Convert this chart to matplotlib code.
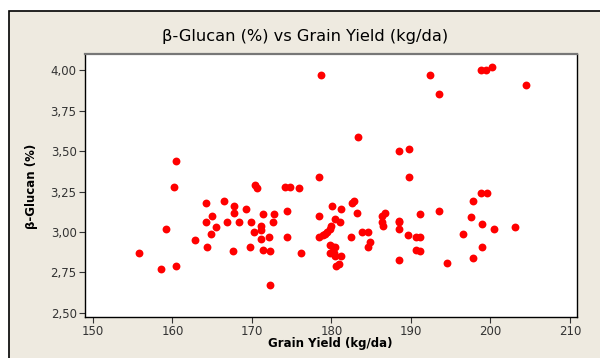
import matplotlib.pyplot as plt
from matplotlib.patches import Rectangle
from matplotlib.ticker import FuncFormatter

# Grain yield (kg/da) and beta-glucan (%)
grain_yield = [
    160.4, 160.2, 155.8, 158.5, 160.5, 159.2, 162.9, 164.2, 164.2, 165.0,
    164.8, 165.5, 164.3, 166.5, 166.9, 167.7, 167.7, 167.6, 168.4, 169.2,
    169.9, 169.7, 170.2, 170.4, 170.6, 171.4, 171.2, 171.2, 171.2, 171.4,
    172.2, 172.3, 172.6, 172.8, 172.3,
    178.7, 192.4, 193.6, 183.4, 188.5, 189.8, 189.8, 178.5, 174.1, 174.8,
    175.9, 174.4, 174.4, 176.2, 178.5, 178.5, 178.9, 179.2, 179.5, 179.8,
    179.9, 180.1, 180.4, 181.1, 181.2, 179.8, 180.2, 180.5, 179.8, 180.3,
    180.5, 181.2, 180.6, 180.9, 182.5, 182.6, 182.8, 183.2, 183.8, 184.6,
    184.8, 184.6, 186.4, 186.8, 186.4, 186.5, 188.5, 188.5, 188.5, 188.5,
    189.7, 190.6, 191.2, 190.6, 191.2, 191.2, 193.5, 194.5,
    198.8, 199.4, 200.2, 204.5, 198.8, 199.6, 197.8, 197.6, 199.0, 200.5,
    203.1, 196.5, 198.9, 197.8,
]
beta_glucan = [
    3.44, 3.28, 2.87, 2.77, 2.79, 3.02, 2.95, 3.18, 3.06, 3.10,
    2.99, 3.03, 2.91, 3.19, 3.06, 3.16, 3.12, 2.88, 3.06, 3.14,
    3.06, 2.91, 3.00, 3.29, 3.27, 3.11, 3.04, 3.01, 2.96, 2.89,
    2.97, 2.88, 3.06, 3.11, 2.67,
    3.97, 3.97, 3.85, 3.59, 3.50, 3.51, 3.34, 3.34, 3.28, 3.28,
    3.27, 3.13, 2.97, 2.87, 3.10, 2.97, 2.98, 2.99, 3.00, 3.02,
    3.04, 3.16, 3.08, 3.06, 3.14, 2.92, 2.91, 2.91, 2.87, 2.87,
    2.85, 2.85, 2.79, 2.80, 2.97, 3.18, 3.19, 3.12, 3.00, 3.00,
    2.94, 2.91, 3.10, 3.12, 3.06, 3.04, 3.07, 3.06, 3.02, 2.83,
    2.98, 2.97, 2.97, 2.89, 2.88, 3.11, 3.13, 2.81,
    4.00, 4.00, 4.02, 3.91, 3.24, 3.24, 3.19, 3.09, 3.05, 3.02,
    3.03, 2.99, 2.91, 2.84,
]

x_ticks = [150, 160, 170, 180, 190, 200, 210]
y_ticks = [2.50, 2.75, 3.00, 3.25, 3.50, 3.75, 4.00]

BEIGE = "#eeeae0"
TEXT = "#333333"

fig = plt.figure(figsize=(6.0, 3.58), dpi=100, facecolor="white")

# outer window frame (runs off the right and bottom edges), kept behind the axes
frame = Rectangle((9 / 600, -0.05), 1.1, (358 - 11) / 358 + 0.05,
                  transform=fig.transFigure, facecolor=BEIGE,
                  edgecolor="black", linewidth=1.2)
frame.set_zorder(-10)
fig.add_artist(frame)

ax = fig.add_axes([85 / 600, 41 / 358, 492 / 600, 263 / 358])
ax.set_facecolor("white")
ax.scatter(grain_yield, beta_glucan, s=32, color="#ff0000", linewidths=0, zorder=3)

ax.set_xlim(149.0, 210.9)
ax.set_ylim(2.475, 4.10)
ax.set_xticks(x_ticks)
ax.set_yticks(y_ticks)
ax.yaxis.set_major_formatter(FuncFormatter(lambda v, p: f"{v:.2f}".replace(".", ",")))
ax.tick_params(direction="out", length=4, width=0.8, color="#333333",
               labelsize=8.5, labelcolor=TEXT, pad=2)

for side in ["left", "bottom", "right"]:
    ax.spines[side].set_color("black")
    ax.spines[side].set_linewidth(1.0)
ax.spines["top"].set_color("#777777")
ax.spines["top"].set_linewidth(1.6)

fig.text(0.509, 1 - 36 / 358, "β-Glucan (%) vs Grain Yield (kg/da)",
         ha="center", va="center", fontsize=11.7, color="black")
fig.text(330 / 600, 1 - 344 / 358, "Grain Yield (kg/da)", ha="center", va="center",
         fontsize=8.5, fontweight="bold", color="black")
fig.text(31 / 600, 1 - 186 / 358, "β-Glucan (%)", ha="center", va="center",
         rotation=90, fontsize=8.5, fontweight="bold", color="black")

fig.savefig("out.png", dpi=100, facecolor=fig.get_facecolor())
